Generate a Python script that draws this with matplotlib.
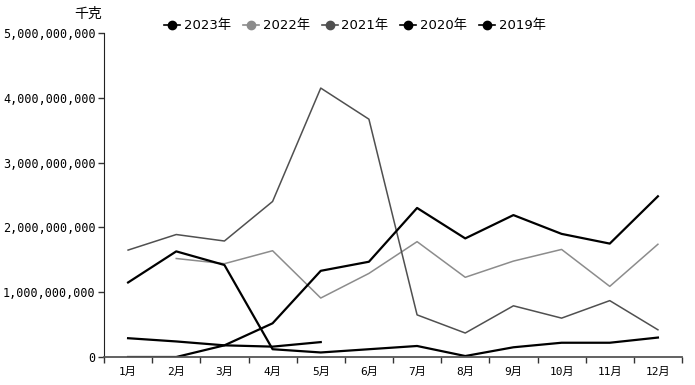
import matplotlib
matplotlib.use("Agg")
import matplotlib.pyplot as plt
from matplotlib.ticker import FuncFormatter, FixedLocator

months = ["1月", "2月", "3月", "4月", "5月", "6月", "7月", "8月", "9月", "10月", "11月", "12月"]
s2023 = [0.29e9, 0.24e9, 0.18e9, 0.16e9, 0.23e9, None, None, None, None, None, None, None]
s2022 = [None, 1.52e9, 1.44e9, 1.64e9, 0.91e9, 1.29e9, 1.78e9, 1.23e9, 1.48e9, 1.66e9, 1.09e9, 1.74e9]
s2021 = [1.65e9, 1.89e9, 1.79e9, 2.40e9, 4.15e9, 3.67e9, 0.65e9, 0.37e9, 0.79e9, 0.60e9, 0.87e9, 0.42e9]
s2020 = [0.0, 0.0, 0.18e9, 0.52e9, 1.33e9, 1.47e9, 2.30e9, 1.83e9, 2.19e9, 1.90e9, 1.75e9, 2.48e9]
s2019 = [1.15e9, 1.63e9, 1.42e9, 0.12e9, 0.07e9, 0.12e9, 0.17e9, 0.015e9, 0.15e9, 0.22e9, 0.22e9, 0.30e9]

series = [("2023年", s2023, "#000000", 1.6),
          ("2022年", s2022, "#8c8c8c", 1.1),
          ("2021年", s2021, "#505050", 1.1),
          ("2020年", s2020, "#000000", 1.6),
          ("2019年", s2019, "#000000", 1.6)]

plt.rcParams['font.family'] = ['DejaVu Sans', 'Noto Sans CJK SC']

fig = plt.figure(figsize=(6.95, 3.85), dpi=100)
ax = fig.add_axes([104/695, 1-357/385, (682-104)/695, (357-33)/385])

x = list(range(len(months)))
handles = []
for name, vals, col, lw in series:
    xs = [i for i, v in zip(x, vals) if v is not None]
    ys = [v for v in vals if v is not None]
    ax.plot(xs, ys, color=col, lw=lw, label=name)
    h, = ax.plot([], [], color=col, lw=1.2, marker='o', markersize=6, label=name)
    handles.append(h)

ax.set_xlim(-0.5, 11.5)
ax.set_ylim(0, 5e9)
ax.set_yticks([0, 1e9, 2e9, 3e9, 4e9, 5e9])
ax.yaxis.set_major_formatter(FuncFormatter(lambda v, p: f"{int(v):,}"))
ax.set_xticks(x)
ax.set_xticklabels(months)
ax.xaxis.set_minor_locator(FixedLocator([i - 0.5 for i in range(13)]))
ax.tick_params(axis='x', which='major', length=0, pad=7)
ax.tick_params(axis='x', which='minor', length=4, width=1, color='#333333')
ax.tick_params(axis='y', length=4, width=1, color='#333333', pad=2)
for lab in ax.get_yticklabels():
    lab.set_family(['DejaVu Sans Mono', 'Noto Sans CJK SC'])
    lab.set_fontsize(8.5)
for lab in ax.get_xticklabels():
    lab.set_family(['DejaVu Sans Mono', 'Noto Sans CJK SC'])
    lab.set_fontsize(8)

for s in ['top', 'right']:
    ax.spines[s].set_visible(False)
ax.spines['left'].set_color('#222222')
ax.spines['bottom'].set_color('#555555')
ax.spines['bottom'].set_linewidth(1.3)

fig.text(102/695, 1-14/385, "千克", ha='right', va='center', fontsize=10,
         family=['Noto Sans CJK SC', 'DejaVu Sans'])

leg = fig.legend(handles=handles, loc='center', bbox_to_anchor=(355/695, 1-26/385),
                 ncol=5, frameon=False, handlelength=1.2, handletextpad=0.3,
                 columnspacing=0.9, prop={'family': ['DejaVu Sans', 'Noto Sans CJK SC'], 'size': 9.5})

fig.savefig("out.png", dpi=100)
